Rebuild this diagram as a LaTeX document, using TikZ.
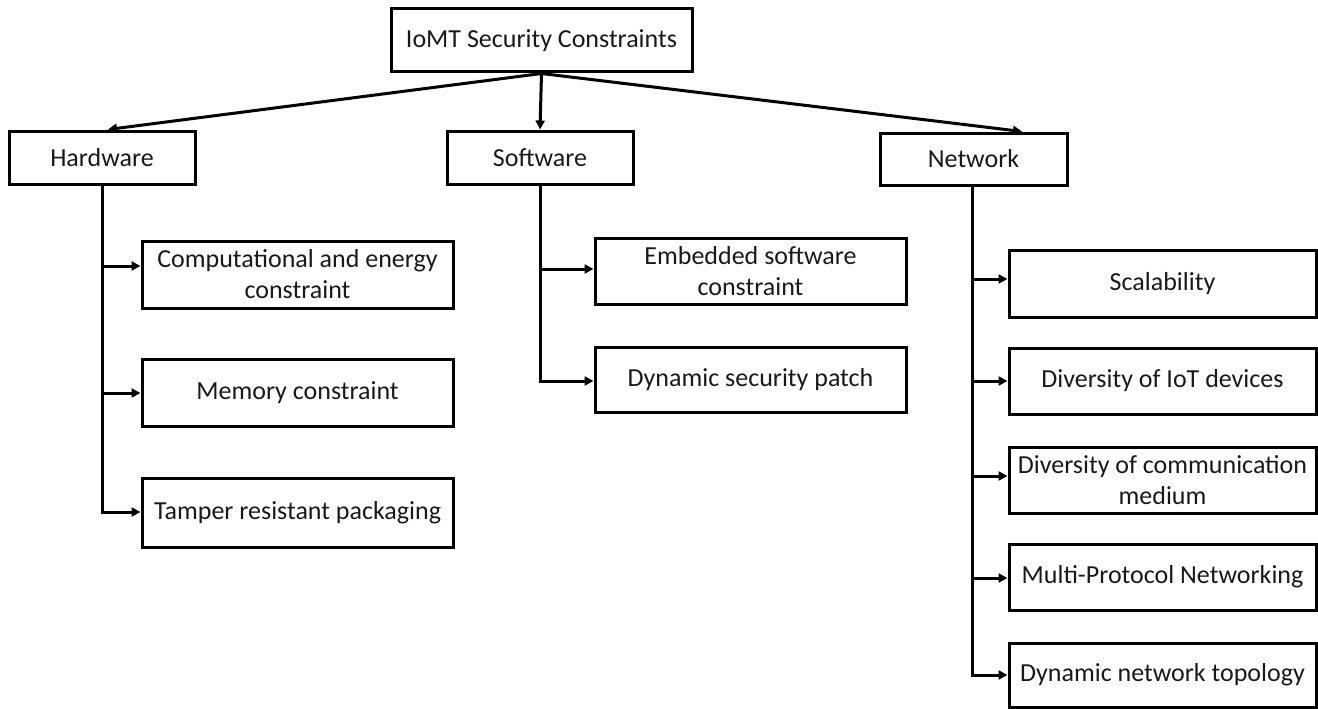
\documentclass[tikz,border=0pt]{standalone}
\usepackage{fontspec}
\setmainfont{Carlito}
\usetikzlibrary{arrows.meta}
\begin{document}
\begin{tikzpicture}[x=1pt,y=-1pt,
  box/.style={draw=black, line width=3pt, inner sep=0pt, align=center,
    text=black!90, font=\fontsize{26}{31}\selectfont},
  conn/.style={draw=black, line width=3pt},
  arr/.style={conn, -{Triangle[length=9pt,width=9pt]}}]
\useasboundingbox (0,0) rectangle (1318,709);
% top level
\node[box, minimum width=301pt, minimum height=63pt] (top) at (541.5,40.5) {IoMT Security Constraints};
\node[box, minimum width=186pt, minimum height=53pt] (hw) at (102,157.5) {Hardware};
\node[box, minimum width=186pt, minimum height=53pt] (sw) at (540,157.5) {Software};
\node[box, minimum width=187pt, minimum height=52pt] (nw) at (973.5,159) {Network};
% hardware children
\node[box, minimum width=311pt, minimum height=67pt] (c1) at (297.5,274.5) {Computational and energy\\constraint};
\node[box, minimum width=311pt, minimum height=67pt] (c2) at (297.5,392.5) {Memory constraint};
\node[box, minimum width=311pt, minimum height=69pt] (c3) at (297.5,512.5) {Tamper resistant packaging};
% software children
\node[box, minimum width=311pt, minimum height=66pt] (s1) at (750.5,271) {Embedded software\\constraint};
\node[box, minimum width=311pt, minimum height=65pt] (s2) at (750.5,379.5) {Dynamic security patch};
% network children
\node[box, minimum width=307pt, minimum height=67pt] (n1) at (1162.5,283.5) {Scalability};
\node[box, minimum width=307pt, minimum height=66pt] (n2) at (1162.5,381) {Diversity of IoT devices};
\node[box, minimum width=307pt, minimum height=66pt] (n3) at (1162.5,480) {Diversity of communication\\medium};
\node[box, minimum width=307pt, minimum height=66pt] (n4) at (1162.5,577) {Multi-Protocol Networking};
\node[box, minimum width=307pt, minimum height=64pt] (n5) at (1162.5,675) {Dynamic network topology};
% top arrows
\draw[arr] (top.south) -- ([xshift=6pt]hw.north);
\draw[arr] (top.south) -- (sw.north);
\draw[arr] (top.south) -- ([xshift=48.5pt]nw.north);
% hardware trunk
\coordinate (h1) at (102,266);
\coordinate (h2) at (102,393);
\coordinate (h3) at (102,512);
\draw[conn, line cap=rect] (hw.south) -- (h3);
\draw[arr] (h1) -- (h1 -| c1.west);
\draw[arr] (h2) -- (h2 -| c2.west);
\draw[arr] (h3) -- (h3 -| c3.west);
% software trunk
\coordinate (s1c) at (540,269);
\coordinate (s2c) at (540,381);
\draw[conn, line cap=rect] (sw.south) -- (s2c);
\draw[arr] (s1c) -- (s1c -| s1.west);
\draw[arr] (s2c) -- (s2c -| s2.west);
% network trunk
\coordinate (nt) at (972,185);
\coordinate (m1) at (972,279);
\coordinate (m2) at (972,381);
\coordinate (m3) at (972,476);
\coordinate (m4) at (972,578);
\coordinate (m5) at (972,675);
\draw[conn, line cap=rect] (nt |- nw.south) -- (m5);
\draw[arr] (m1) -- (m1 -| n1.west);
\draw[arr] (m2) -- (m2 -| n2.west);
\draw[arr] (m3) -- (m3 -| n3.west);
\draw[arr] (m4) -- (m4 -| n4.west);
\draw[arr] (m5) -- (m5 -| n5.west);
\end{tikzpicture}
\end{document}
